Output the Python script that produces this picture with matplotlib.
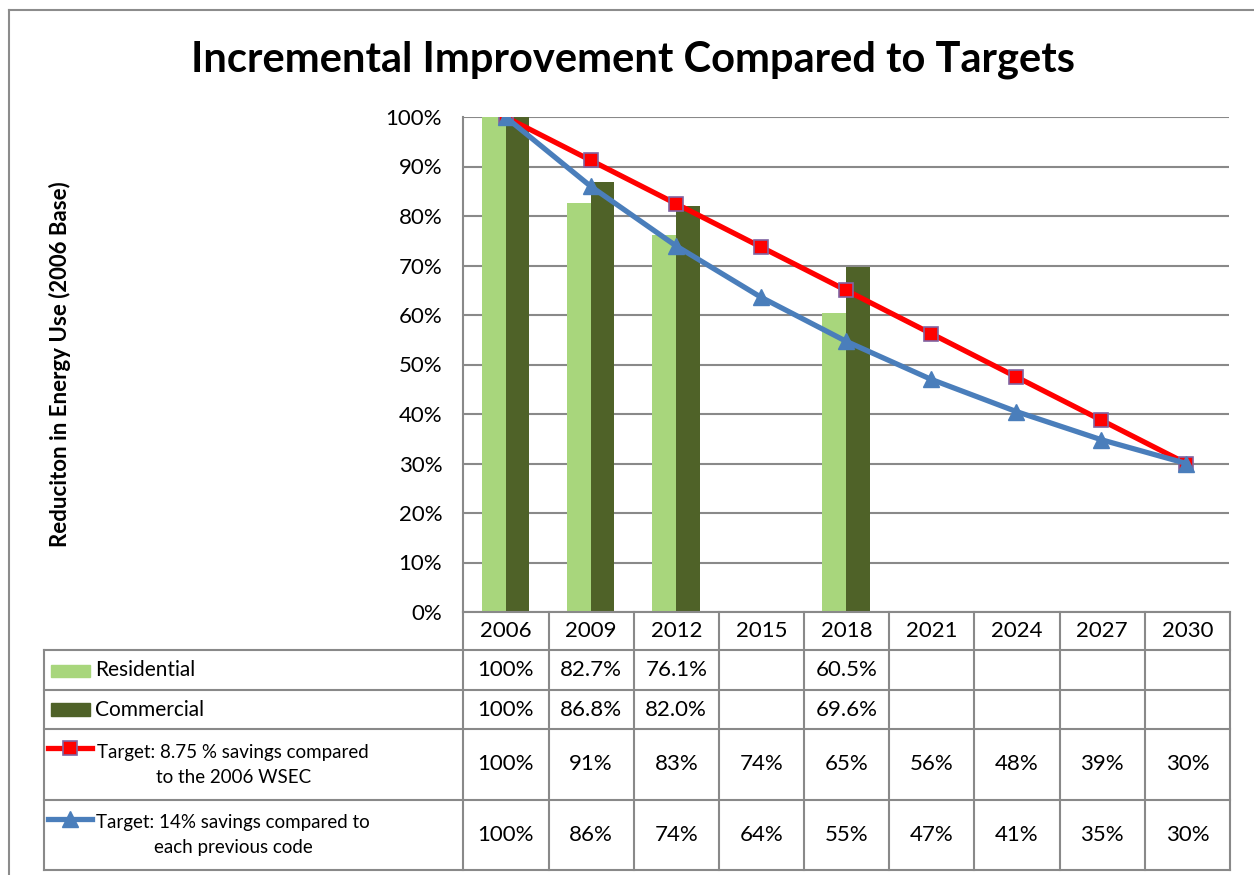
import matplotlib.pyplot as plt
from matplotlib.lines import Line2D
from matplotlib.patches import Rectangle

plt.rcParams['font.family'] = ['Lato', 'DejaVu Sans']

years = ['2006', '2009', '2012', '2015', '2018', '2021', '2024', '2027', '2030']
residential = [100, 82.7, 76.1, None, 60.5, None, None, None, None]
commercial = [100, 86.8, 82.0, None, 69.6, None, None, None, None]
target_875 = [100, 91.25, 82.5, 73.75, 65, 56.25, 47.5, 38.75, 30]
target_14 = [100, 86, 74.0, 63.6, 54.7, 47.0, 40.5, 34.8, 30]

names = ['Residential', 'Commercial',
         'Target: 8.75 % savings compared\nto the 2006 WSEC',
         'Target: 14% savings compared to\neach previous code']

c_res = '#A8D67C'
c_com = '#4F6228'
c_red = '#FF0000'
c_blue = '#4A7EBB'
c_grid = '#898989'

W, H = 1254, 875
fig = plt.figure(figsize=[W / 100, H / 100], dpi=100)

# main plot
ax = fig.add_axes([463 / W, 1 - 612 / H, (1229 - 463) / W, (612 - 117) / H])
x = list(range(len(years)))
bw = 0.28
for i in x:
    if residential[i] is not None:
        ax.bar(i - bw / 2, residential[i], bw, color=c_res, zorder=2)
    if commercial[i] is not None:
        ax.bar(i + bw / 2, commercial[i], bw, color=c_com, zorder=2)
ax.plot(x, target_875, color=c_red, lw=3.8, marker='s', ms=10,
        mfc=c_red, mec='#8064A2', mew=1.2, zorder=3)
ax.plot(x, target_14, color=c_blue, lw=3.8, marker='^', ms=11,
        mfc=c_blue, mec=c_blue, zorder=4)
ax.set_xlim(-0.5, 8.5)
ax.set_ylim(0, 100)
ax.set_yticks(range(0, 101, 10))
ax.set_yticklabels([f'{v}%' for v in range(0, 101, 10)], fontsize=16)
ax.set_xticks([])
ax.tick_params(axis='y', length=0, pad=15)
ax.grid(axis='y', color=c_grid, lw=1.5, zorder=0)
for s in ['top', 'right', 'bottom']:
    ax.spines[s].set_visible(False)
ax.spines['left'].set_color(c_grid)
ax.spines['left'].set_linewidth(1.5)
ax.set_ylabel('Reduciton in Energy Use (2006 Base)', fontsize=16,
              fontweight='bold', labelpad=0)
ax.yaxis.set_label_coords(-(463 - 71) / (1229 - 463), 0.5)

fig.text(633 / W, 1 - 60 / H, 'Incremental Improvement Compared to Targets',
         fontsize=30, fontweight='bold', ha='center', va='center')

# data table
colw = (1229 - 463) / 9


def px(p):
    return -0.5 - (463 - p) / colw


tb = fig.add_axes([44 / W, 1 - 870 / H, (1230 - 44) / W, (870 - 612) / H])
tb.set_xlim(px(44), 8.5)
tb.set_ylim(870, 612)
tb.axis('off')
rows = [612, 650, 690, 729, 800, 870]
lk = dict(color=c_grid, lw=1.5, clip_on=False)
tb.plot([-0.5, 8.5], [rows[0], rows[0]], **lk)
for r in rows[1:]:
    tb.plot([px(44), 8.5], [r, r], **lk)
for i in range(10):
    tb.plot([i - 0.5, i - 0.5], [rows[0], rows[-1]], **lk)
tb.plot([px(44), px(44)], [rows[1], rows[-1]], **lk)

for i, y in enumerate(years):
    tb.text(i, (rows[0] + rows[1]) / 2, y, fontsize=16, ha='center', va='center')


def pct(v, dec):
    if v is None:
        return ''
    if v == 100:
        return '100%'
    if dec:
        return f'{v:.1f}%'
    return f'{int(v + 0.5)}%'


series = [(residential, 1), (commercial, 1), (target_875, 0), (target_14, 0)]
for k, (vals, dec) in enumerate(series):
    yc = (rows[k + 1] + rows[k + 2]) / 2
    for i, v in enumerate(vals):
        tb.text(i, yc, pct(v, dec), fontsize=16, ha='center', va='center')

# row labels and legend keys
tb.add_patch(Rectangle((px(51), 665), px(90) - px(51), 12, color=c_res, clip_on=False))
tb.add_patch(Rectangle((px(51), 703), px(90) - px(51), 13, color=c_com, clip_on=False))
tb.text(px(95), 670, names[0], fontsize=15, ha='left', va='center')
tb.text(px(95), 710, names[1], fontsize=15, ha='left', va='center')
tb.add_line(Line2D([px(48), px(92)], [748, 748], color=c_red, lw=3.8, clip_on=False))
tb.plot([px(70)], [748], marker='s', ms=10, mfc=c_red, mec='#8064A2', mew=1.2, clip_on=False)
tb.add_line(Line2D([px(48), px(92)], [819, 819], color=c_blue, lw=3.8, clip_on=False))
tb.plot([px(70)], [819], marker='^', ms=11, mfc=c_blue, mec=c_blue, clip_on=False)
tb.text(px(233), 765, names[2], fontsize=13.5, ha='center', va='center',
        multialignment='center', linespacing=1.6)
tb.text(px(233), 835, names[3], fontsize=13.5, ha='center', va='center',
        multialignment='center', linespacing=1.6)

# chart frame
fig.add_artist(Line2D([9 / W, 9 / W], [0, 1 - 10 / H], color='#8c8c8c', lw=1.5))
fig.add_artist(Line2D([9 / W, 1], [1 - 10 / H, 1 - 10 / H], color='#8c8c8c', lw=1.5))

fig.savefig('out.png', dpi=100)
